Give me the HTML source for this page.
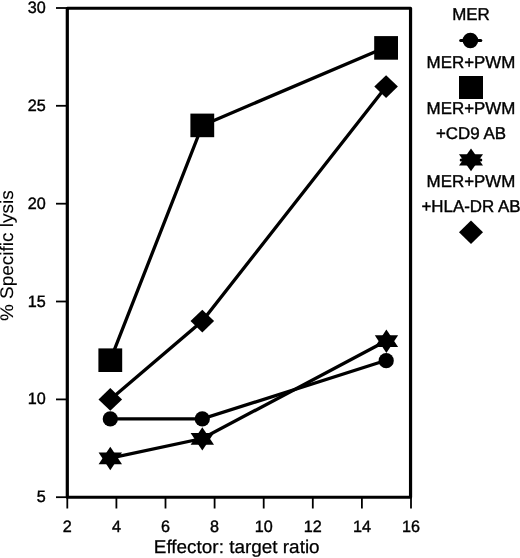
<!DOCTYPE html>
<html><head><meta charset="utf-8"><title>Chart</title>
<style>
html,body{margin:0;padding:0;background:#fff;}
svg{display:block;}
text{font-family:"Liberation Sans",Arial,Helvetica,sans-serif;fill:#000;stroke:#000;text-rendering:geometricPrecision;}
</style></head><body>
<svg width="520" height="558" viewBox="0 0 520 558">
<rect width="520" height="558" fill="#fff"/>

<rect x="67.3" y="8.25" width="343.25" height="489.00" fill="none" stroke="#000" stroke-width="3.2" stroke-linejoin="round"/>
<g stroke="#000" stroke-width="1.8">
<line x1="56" y1="497.2" x2="67.3" y2="497.2"/>
<line x1="56" y1="399.4" x2="67.3" y2="399.4"/>
<line x1="56" y1="301.5" x2="67.3" y2="301.5"/>
<line x1="56" y1="203.7" x2="67.3" y2="203.7"/>
<line x1="56" y1="105.8" x2="67.3" y2="105.8"/>
<line x1="56" y1="8.0" x2="67.3" y2="8.0"/>
<line x1="67.3" y1="497.2" x2="67.3" y2="508.5"/>
<line x1="116.4" y1="497.2" x2="116.4" y2="508.5"/>
<line x1="165.5" y1="497.2" x2="165.5" y2="508.5"/>
<line x1="214.6" y1="497.2" x2="214.6" y2="508.5"/>
<line x1="263.7" y1="497.2" x2="263.7" y2="508.5"/>
<line x1="312.8" y1="497.2" x2="312.8" y2="508.5"/>
<line x1="361.9" y1="497.2" x2="361.9" y2="508.5"/>
<line x1="411.0" y1="497.2" x2="411.0" y2="508.5"/>
</g>
<text transform="translate(45.7,502.1) scale(0.98,1)" font-size="16.5" stroke-width="0.4" text-anchor="end">5</text>
<text transform="translate(45.7,404.3) scale(0.98,1)" font-size="16.5" stroke-width="0.4" text-anchor="end">10</text>
<text transform="translate(45.7,306.5) scale(0.98,1)" font-size="16.5" stroke-width="0.4" text-anchor="end">15</text>
<text transform="translate(45.7,208.6) scale(0.98,1)" font-size="16.5" stroke-width="0.4" text-anchor="end">20</text>
<text transform="translate(45.7,110.8) scale(0.98,1)" font-size="16.5" stroke-width="0.4" text-anchor="end">25</text>
<text transform="translate(45.7,12.9) scale(0.98,1)" font-size="16.5" stroke-width="0.4" text-anchor="end">30</text>
<text transform="translate(67.3,531.7) scale(0.98,1)" font-size="16.5" stroke-width="0.4" text-anchor="middle">2</text>
<text transform="translate(116.4,531.7) scale(0.98,1)" font-size="16.5" stroke-width="0.4" text-anchor="middle">4</text>
<text transform="translate(165.5,531.7) scale(0.98,1)" font-size="16.5" stroke-width="0.4" text-anchor="middle">6</text>
<text transform="translate(214.6,531.7) scale(0.98,1)" font-size="16.5" stroke-width="0.4" text-anchor="middle">8</text>
<text transform="translate(263.7,531.7) scale(0.98,1)" font-size="16.5" stroke-width="0.4" text-anchor="middle">10</text>
<text transform="translate(312.8,531.7) scale(0.98,1)" font-size="16.5" stroke-width="0.4" text-anchor="middle">12</text>
<text transform="translate(361.9,531.7) scale(0.98,1)" font-size="16.5" stroke-width="0.4" text-anchor="middle">14</text>
<text transform="translate(411.0,531.7) scale(0.98,1)" font-size="16.5" stroke-width="0.4" text-anchor="middle">16</text>
<text transform="translate(236.7,553.4) scale(1.023,1)" font-size="18.5" stroke-width="0.25" text-anchor="middle">Effector: target ratio</text>
<text transform="translate(13.3,255.7) rotate(-90) scale(1.038,1)" font-size="18.3" stroke-width="0.1" text-anchor="middle">% Specific lysis</text>
<g fill="#000" stroke="none">
<polyline fill="none" stroke="#000" stroke-width="3.3" points="110.3,418.9 202.3,418.9 386.4,360.2"/>
<polyline fill="none" stroke="#000" stroke-width="3.3" points="110.3,360.2 202.3,125.4 386.4,47.1"/>
<polyline fill="none" stroke="#000" stroke-width="3.3" points="110.3,458.1 202.3,438.5 386.4,340.7"/>
<polyline fill="none" stroke="#000" stroke-width="3.3" points="110.3,399.4 202.3,321.1 386.4,86.3"/>
<circle cx="110.3" cy="418.9" r="7.6"/>
<circle cx="202.3" cy="418.9" r="7.6"/>
<circle cx="386.2" cy="360.7" r="7.6"/>
<rect x="98.4" y="348.4" width="23.8" height="23.6"/>
<rect x="190.4" y="113.6" width="23.8" height="23.6"/>
<rect x="374.2" y="36.1" width="23.8" height="23.6"/>
<polygon points="110.3,446.8 122.0,464.3 98.6,464.3"/><polygon points="110.3,470.2 122.0,452.6 98.6,452.6"/>
<polygon points="202.3,427.2 214.0,444.7 190.6,444.7"/><polygon points="202.3,450.6 214.0,433.0 190.6,433.0"/>
<polygon points="386.4,329.5 398.1,347.0 374.8,347.0"/><polygon points="386.4,352.9 398.1,335.3 374.8,335.3"/>
<polygon points="110.3,388.1 122.1,399.4 110.3,410.7 98.5,399.4"/>
<polygon points="202.3,309.8 214.1,321.1 202.3,332.4 190.5,321.1"/>
<polygon points="386.1,75.3 397.9,86.6 386.1,97.9 374.3,86.6"/>
</g>
<text transform="translate(471.0,20.4) scale(0.995,1)" font-size="17" stroke-width="0.4" text-anchor="middle">MER</text>
<line x1="460.7" y1="40.55" x2="480.8" y2="40.55" stroke="#000" stroke-width="3" stroke-linecap="round"/>
<circle cx="470.4" cy="40.5" r="7.8" fill="#000"/>
<text transform="translate(471.0,68.0) scale(0.995,1)" font-size="17" stroke-width="0.4" text-anchor="middle">MER+PWM</text>
<rect x="459" y="76" width="24" height="23" fill="#000"/>
<text transform="translate(471.0,113.7) scale(0.995,1)" font-size="17" stroke-width="0.4" text-anchor="middle">MER+PWM</text>
<text transform="translate(471.0,139.1) scale(0.995,1)" font-size="17" stroke-width="0.4" text-anchor="middle">+CD9 AB</text>
<g fill="#000"><polygon points="471.0,148.6 483.0,165.6 459.0,165.6"/><polygon points="471.0,171.2 483.0,154.3 459.0,154.3"/></g>
<line x1="461.2" y1="159.95" x2="480.8" y2="159.95" stroke="#000" stroke-width="3" stroke-linecap="round"/>
<text transform="translate(471.0,186.6) scale(0.995,1)" font-size="17" stroke-width="0.4" text-anchor="middle">MER+PWM</text>
<text transform="translate(471.0,212.3) scale(0.995,1)" font-size="17" stroke-width="0.4" text-anchor="middle">+HLA-DR AB</text>
<polygon fill="#000" points="471,220.6 483,232.3 471,244 459,232.3"/>
</svg></body></html>
